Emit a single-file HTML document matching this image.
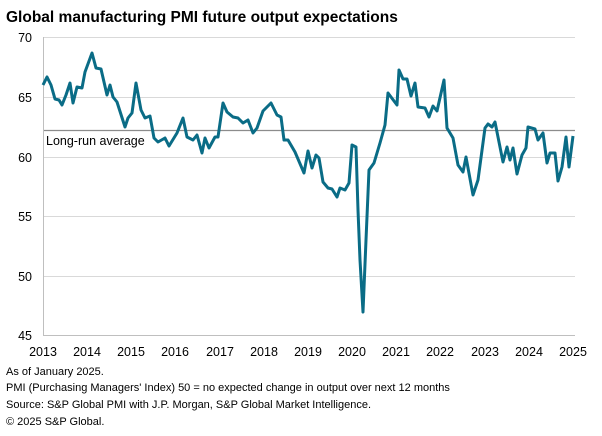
<!DOCTYPE html>
<html><head><style>
body{margin:0;background:#fff;font-family:"Liberation Sans",Arial,sans-serif;}
</style></head><body>
<svg width="602" height="431" xmlns="http://www.w3.org/2000/svg" font-family="Liberation Sans, Arial, sans-serif">
<text x="6" y="22" font-size="15.5" font-weight="bold" fill="#000">Global manufacturing PMI future output expectations</text>
<g stroke="#d9d9d9" stroke-width="1">
<line x1="43" x2="575" y1="37.5" y2="37.5"/>
<line x1="43" x2="575" y1="97.5" y2="97.5"/>
<line x1="43" x2="575" y1="157.5" y2="157.5"/>
<line x1="43" x2="575" y1="216.5" y2="216.5"/>
<line x1="43" x2="575" y1="276.5" y2="276.5"/>
</g>
<line x1="43" x2="575" y1="130.5" y2="130.5" stroke="#8c8c8c" stroke-width="1.2"/>
<line x1="43.5" x2="43.5" y1="37" y2="336" stroke="#bfbfbf"/>
<line x1="43" x2="575" y1="335.5" y2="335.5" stroke="#bfbfbf"/>
<g font-size="12.5" fill="#000" text-anchor="end">
<text x="32" y="42">70</text><text x="32" y="102">65</text><text x="32" y="162">60</text>
<text x="32" y="221">55</text><text x="32" y="281">50</text><text x="32" y="340">45</text>
</g>
<g font-size="12.5" fill="#000" text-anchor="middle">
<text x="43" y="356">2013</text><text x="87" y="356">2014</text><text x="131" y="356">2015</text>
<text x="175" y="356">2016</text><text x="220" y="356">2017</text><text x="264" y="356">2018</text>
<text x="308" y="356">2019</text><text x="352" y="356">2020</text><text x="396" y="356">2021</text>
<text x="440" y="356">2022</text><text x="485" y="356">2023</text><text x="529" y="356">2024</text>
<text x="573" y="356">2025</text>
</g>
<text x="46" y="145" font-size="12.5" fill="#000">Long-run average</text>
<polyline fill="none" stroke="#0a6c86" stroke-width="3" stroke-linejoin="round" points="43,85 47,77 51,85 55,99 59,100 62,105 66,95 70,83 73,103 77,87 82,88 85,72 92,53 96,68 101,69 107,95 110,85 113,97 117,102 125,127 128,118 132,113 136,83 141,110 145,118 150,116 154,138 158,142 165,138 169,146 177,133 183,118 187,137 193,140 197,135 202,153 205,138 209,148 215,137 218,137 223,103 227,112 233,117 238,118 243,123 248,120 253,133 257,128 263,111 271,103 277,115 281,117 284,140 288,140 295,152 304,173 308,151 312,168 316,155 319,158 323,182 328,188 332,189 337,197 340,188 345,190 349,183 352,145 356,147 358,210 360,260 363,312 366,240 369,170 374,163 380,143 385,125 388,93 397,105 399,70 403,79 407,79 411,96 415,83 418,107 425,108 429,117 433,106 437,111 444,80 447,128 453,138 458,165 463,172 466,157 473,195 478,180 485,128 488,124 492,127 495,122 503,162 507,147 510,160 513,148 517,174 522,155 526,148 528,127 535,129 538,140 543,133 547,163 550,153 555,153 558,181 562,167 566,137 569,167 573,136"/>
<g font-size="11" fill="#000">
<text x="6" y="375">As of January 2025.</text>
<text x="6" y="391">PMI (Purchasing Managers' Index) 50 = no expected change in output over next 12 months</text>
<text x="6" y="408">Source: S&amp;P Global  PMI with J.P. Morgan, S&amp;P Global Market Intelligence.</text>
<text x="6" y="425">© 2025 S&amp;P Global.</text>
</g>
</svg>
</body></html>
